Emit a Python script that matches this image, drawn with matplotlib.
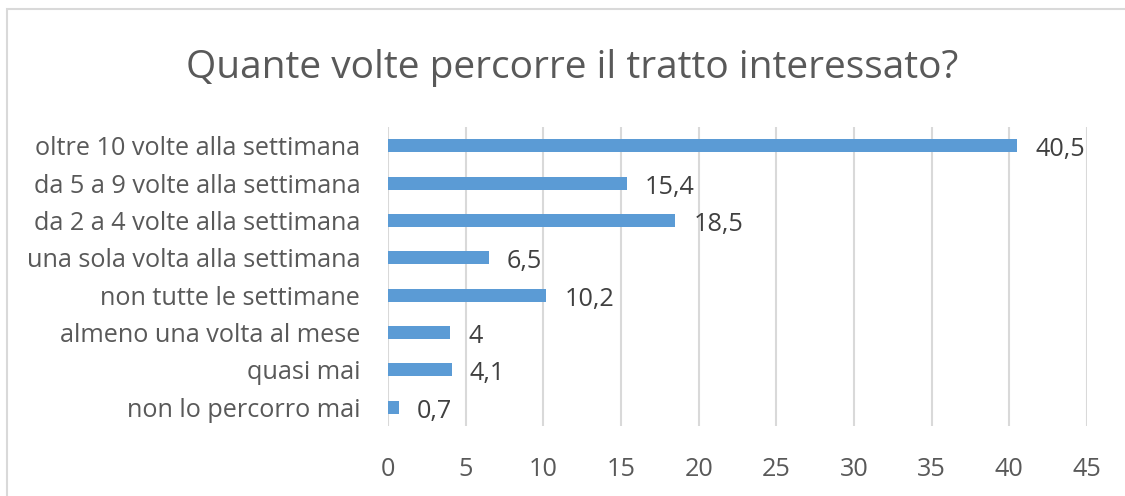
import matplotlib
matplotlib.use("Agg")
import matplotlib.pyplot as plt
from matplotlib.patches import Rectangle

categories = [
    "oltre 10 volte alla settimana",
    "da 5 a 9 volte alla settimana",
    "da 2 a 4 volte alla settimana",
    "una sola volta alla settimana",
    "non tutte le settimane",
    "almeno una volta al mese",
    "quasi mai",
    "non lo percorro mai",
]
values = [40.5, 15.4, 18.5, 6.5, 10.2, 4, 4.1, 0.7]
labels = ["40,5", "15,4", "18,5", "6,5", "10,2", "4", "4,1", "0,7"]
xticks = [0, 5, 10, 15, 20, 25, 30, 35, 40, 45]
title = "Quante volte percorre il tratto interessato?"

plt.rcParams['font.family'] = ['Open Sans', 'DejaVu Sans']

fig = plt.figure(figsize=(11.25, 4.96), dpi=100)
fig.patches.append(Rectangle((7/1125, -0.1), 1.2, 1 - 9/496 + 0.1, transform=fig.transFigure,
                             facecolor='none', edgecolor='#D9D9D9', linewidth=1.5, zorder=0))

ax = fig.add_axes([388/1125, 1 - 426/496, (1087 - 388)/1125, (426 - 127)/496])
ax.set_facecolor('none')
ypos = list(range(len(categories)))
ax.barh(ypos, values, height=0.35, color='#5B9BD5', zorder=3)
ax.set_ylim(len(categories) - 0.5, -0.5)
ax.set_xlim(0, 45)
ax.set_xticks(xticks)
ax.set_xticklabels([str(t) for t in xticks])
ax.set_yticks(ypos)
ax.set_yticklabels(categories)
ax.tick_params(axis='y', length=0, pad=20, labelsize=18.2, labelcolor='#595959')
ax.tick_params(axis='x', length=0, pad=22, labelsize=18.2, labelcolor='#595959')
for s in ax.spines.values():
    s.set_visible(False)
ax.xaxis.grid(True, color='#D9D9D9', linewidth=1.5, zorder=0)
ax.set_axisbelow(True)

for y, v, lab in zip(ypos, values, labels):
    ax.annotate(lab, (v, y), xytext=(18, -4), textcoords='offset pixels',
                va='center', ha='left', fontsize=18.2, color='#404040')

fig.text(572/1125, 1 - 68/496, title, ha='center', va='center', fontsize=28, color='#595959')

fig.savefig('out.png', dpi=100)
